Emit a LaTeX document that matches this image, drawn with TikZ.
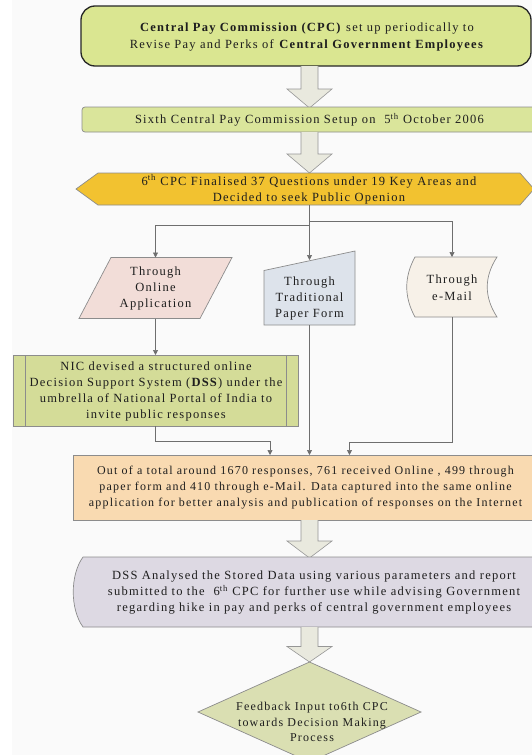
\documentclass[tikz,border=0pt]{standalone}
\usepackage{fontspec}
\setmainfont{Liberation Serif}[LetterSpace=10]
\usetikzlibrary{arrows.meta}
\definecolor{bgc}{RGB}{250,250,250}
\definecolor{topfill}{RGB}{218,230,145}
\definecolor{boxtwo}{RGB}{218,229,155}
\definecolor{hexfill}{RGB}{242,194,48}
\definecolor{parfill}{RGB}{242,221,216}
\definecolor{papfill}{RGB}{221,227,235}
\definecolor{emfill}{RGB}{247,241,232}
\definecolor{nicfill}{RGB}{212,220,152}
\definecolor{outfill}{RGB}{249,218,177}
\definecolor{dssfill}{RGB}{221,217,227}
\definecolor{diafill}{RGB}{218,223,178}
\definecolor{arrowfill}{RGB}{233,233,222}
\definecolor{arrowdraw}{RGB}{150,150,150}
\definecolor{bordergray}{RGB}{140,140,140}
\definecolor{linegray}{RGB}{110,110,110}
\definecolor{textc}{RGB}{30,30,30}
\tikzset{
  shp/.style={draw=bordergray, line width=0.7pt},
  conn/.style={draw=linegray, line width=0.7pt},
  tipend/.style={-{Triangle[length=5pt,width=5pt]}},
  txt/.style={align=center, text=textc, inner sep=0pt, font=\fontsize{12.5}{16}\selectfont},
  blockarrow/.style={fill=arrowfill, draw=arrowdraw, line width=0.6pt},
}
\newcommand{\barrow}[3]{\draw[blockarrow] (301,#1) -- (301,#2) -- (287,#2) -- (309.5,#3) -- (332,#2) -- (318,#2) -- (318,#1);}
\begin{document}
\begin{tikzpicture}[x=1pt,y=-1pt]
\useasboundingbox (0,0) rectangle (532,755);
\clip (0,0) rectangle (532,755);
\fill[white] (0,0) rectangle (532,755);
\fill[bgc] (12,0) rectangle (532,755);

% top box
\draw[fill=topfill, draw=black!85, line width=1.3pt, rounded corners=14pt] (81,6) rectangle (531,66);
\node[txt, font=\fontsize{12.5}{17.5}\selectfont] (cpc) at (307,37)
  {\textbf{Central Pay Commission (CPC)} set up periodically to\\
   Revise Pay and Perks of \textbf{Central Government Employees}};

\barrow{66}{89}{108}

% sixth CPC
\draw[shp, fill=boxtwo, rounded corners=3pt] (82,107) rectangle (545,132);
\node[txt] (six) at (309.5,120) {Sixth Central Pay Commission Setup on\ \ 5\textsuperscript{th} October 2006};

\barrow{132}{154}{173}

% hexagon
\draw[shp, fill=hexfill] (76,189) -- (98,173) -- (520,173) -- (534,189) -- (520,205) -- (98,205) -- cycle;
\node[txt, font=\fontsize{12.5}{16.5}\selectfont] (hex) at (309,189.5)
  {6\textsuperscript{th} CPC Finalised 37 Questions under 19 Key Areas and\\ Decided to seek Public Openion};

% three channels
\draw[shp, fill=parfill] (111,257.5) -- (232,257.5) -- (200,318.5) -- (79,318.5) -- cycle;
\node[txt] (online) at (155.5,288) {Through\\ Online\\ Application};

\draw[shp, fill=papfill] (264,270.5) -- (355,251) -- (355,325) -- (264,325) -- cycle;
\node[txt] (paper) at (309.5,298) {Through\\ Traditional\\ Paper Form};

\draw[shp, fill=emfill] (415,257) -- (497,257) .. controls (484,277) and (484,297) .. (497,317)
  -- (415,317) .. controls (404,297) and (404,277) .. (415,257) -- cycle;
\node[txt, font=\fontsize{12.5}{17}\selectfont] (email) at (452,287.5) {Through\\ e-Mail};

% NIC box
\draw[shp, fill=nicfill] (13.5,355) rectangle (298.5,426);
\draw[shp] (25.5,355) -- (25.5,426) (286.5,355) -- (286.5,426);
\node[txt] (nic) at (156,391)
  {NIC devised a structured online\\ Decision Support System (\textbf{DSS}) under the\\
   umbrella of National Portal of India to\\ invite public responses};

% outcome box
\draw[shp, fill=outfill] (73,455) rectangle (545,520);
\node[txt, font=\fontsize{12}{16}\selectfont] (out) at (305.5,488)
  {Out of a total around 1670 responses, 761 received Online , 499 through\\
   paper form and 410 through e-Mail. Data captured into the same online\\
   application for better analysis and publication of responses on the Internet};

\barrow{520}{541}{558}

% DSS display
\draw[shp, fill=dssfill] (545,557) -- (83,557) .. controls (70,575) and (70,609) .. (83,627) -- (545,627);
\node[txt] (dss) at (314,593)
  {DSS Analysed the Stored Data using various parameters and report\\
   submitted to the\ \ 6\textsuperscript{th} CPC for further use while advising Government\\
   regarding hike in pay and perks of central government employees};

\barrow{627}{646.5}{662}

% diamond
\draw[shp, fill=diafill] (309.5,662) -- (421,712) -- (309.5,762) -- (198,712) -- cycle;
\node[txt, font=\fontsize{12}{15.3}\selectfont] (fb) at (312,722)
  {Feedback Input to6th CPC\\ towards Decision Making\\ Process};

% connector anchor points
\coordinate (hexB) at (309.5,205);
\coordinate (parT) at (155.5,257.5);
\coordinate (papT) at (309.5,260);
\coordinate (emT) at (452,257);
\coordinate (parB) at (155.5,318.5);
\coordinate (nicT) at (155.5,355);
\coordinate (nicB) at (155.5,426);
\coordinate (papB) at (309.5,325);
\coordinate (emB) at (452,317);
\coordinate (outA) at (270,455);
\coordinate (outB) at (309.5,455);
\coordinate (outC) at (349.5,455);

\draw[conn, tipend] (hexB) -- (papT);
\draw[conn, tipend] (hexB) -- ++(0,20.5) -| (parT);
\draw[conn, tipend] (hexB) -- ++(0,16) -| (emT);
\draw[conn, tipend] (parB) -- (nicT);
\draw[conn, tipend] (nicB) -- ++(0,15) -| (outA);
\draw[conn, tipend] (papB) -- (outB);
\draw[conn, tipend] (emB) -- ++(0,125) -| (outC);
\end{tikzpicture}
\end{document}
